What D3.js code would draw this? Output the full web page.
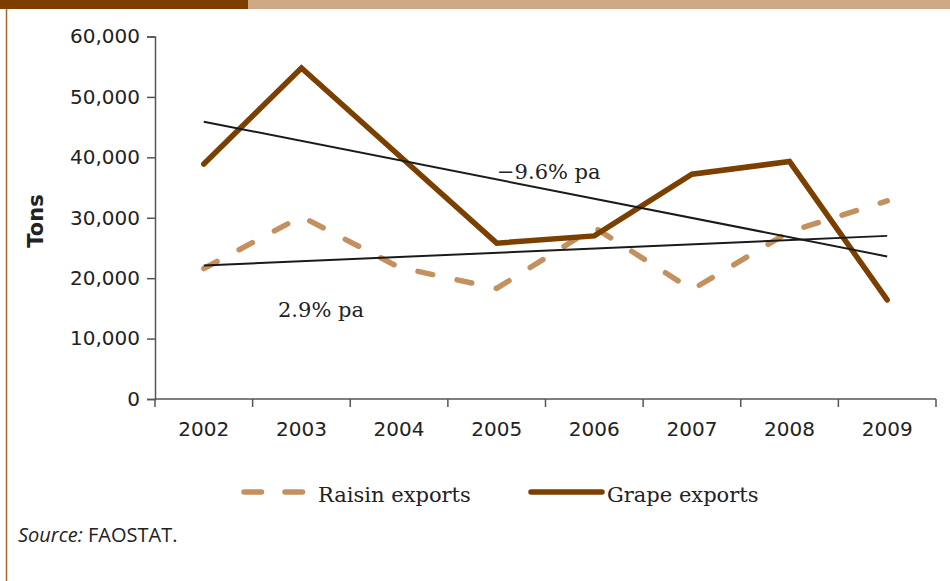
<!DOCTYPE html>
<html>
<head>
<meta charset="utf-8">
<script src="https://cdn.jsdelivr.net/npm/d3@7/dist/d3.min.js"></script>
<style>
  html, body { margin: 0; padding: 0; background: #ffffff; }
  svg { display: block; }
</style>
</head>
<body>
<svg id="chart" width="950" height="581"></svg>
<script>
// Export volumes (tons) by year
const years = ["2002", "2003", "2004", "2005", "2006", "2007", "2008", "2009"];
const raisinExports = [21600, 30200, 21800, 18300, 28400, 18100, 27700, 32800];
const grapeExports  = [38900, 54800, 40300, 25800, 27000, 37200, 39300, 16400];

// Trend lines: values at the first and last year
const trendYears = ["2002", "2009"];
const grapeTrend  = [45900, 23600];
const raisinTrend = [22100, 27000];

const yTicks = [0, 10000, 20000, 30000, 40000, 50000, 60000];
const seriesNames = ["Raisin exports", "Grape exports"];
const trendLabels = ["\u22129.6% pa", "2.9% pa"];

const svg = d3.select("#chart");
const W = 950, H = 581;

const darkBrown = "#7b4000";
const tan = "#c3915f";
const barTan = "#cfa886";
const axisColor = "#555555";
const textColor = "#222222";
const sansFont = "'DejaVu Sans', sans-serif";
const serifFont = "'DejaVu Serif', serif";

// Header band and frame edge
svg.append("rect").attr("x", 0).attr("y", 0).attr("width", 248).attr("height", 9).attr("fill", darkBrown);
svg.append("rect").attr("x", 248).attr("y", 0).attr("width", W - 248).attr("height", 9).attr("fill", barTan);
svg.append("line").attr("x1", 6.5).attr("x2", 6.5).attr("y1", 9).attr("y2", H)
  .attr("stroke", "#a4642a").attr("stroke-width", 1.5);

// Scales
const x = d3.scaleBand().domain(years).range([155, 936]).padding(0);
const xc = d => x(d) + x.bandwidth() / 2;
const y = d3.scaleLinear().domain([0, 60000]).range([399, 36.5]);

// Y axis
const yAxis = d3.axisLeft(y).tickValues(yTicks).tickSize(8).tickPadding(7)
  .tickFormat(d3.format(","));
const gy = svg.append("g").attr("transform", "translate(155,0)").call(yAxis);
gy.select(".domain").attr("stroke", axisColor).attr("stroke-width", 1.5);
gy.selectAll(".tick line").attr("stroke", axisColor).attr("stroke-width", 1.5);
gy.selectAll(".tick text").attr("fill", textColor).attr("font-family", sansFont)
  .attr("font-size", 20);

// X axis with ticks at category boundaries
const gx = svg.append("g").attr("transform", "translate(0,399)");
gx.append("line").attr("x1", 155).attr("x2", 936).attr("y1", 0).attr("y2", 0)
  .attr("stroke", axisColor).attr("stroke-width", 1.5);
const edges = years.map(d => x(d)).concat([x(years[years.length - 1]) + x.bandwidth()]);
gx.selectAll("line.edge").data(edges).join("line").attr("class", "edge")
  .attr("x1", d => d).attr("x2", d => d).attr("y1", 0).attr("y2", 8)
  .attr("stroke", axisColor).attr("stroke-width", 1.5);
gx.selectAll("text").data(years).join("text")
  .attr("x", d => xc(d)).attr("y", 37).attr("text-anchor", "middle")
  .attr("fill", textColor).attr("font-family", sansFont).attr("font-size", 20)
  .text(d => d);

// Y axis title
svg.append("text")
  .attr("transform", "translate(43,221) rotate(-90)")
  .attr("text-anchor", "middle").attr("fill", textColor)
  .attr("font-family", sansFont).attr("font-weight", "bold").attr("font-size", 21)
  .text("Tons");

const line = d3.line().x(d => xc(d[0])).y(d => y(d[1]));

// Raisin series (dashed)
svg.append("path").datum(years.map((d, i) => [d, raisinExports[i]]))
  .attr("d", line).attr("fill", "none").attr("stroke", tan).attr("stroke-width", 5.5)
  .attr("stroke-dasharray", "15,25").attr("stroke-linecap", "round").attr("stroke-linejoin", "round");

// Grape series (solid)
svg.append("path").datum(years.map((d, i) => [d, grapeExports[i]]))
  .attr("d", line).attr("fill", "none").attr("stroke", darkBrown).attr("stroke-width", 5.5)
  .attr("stroke-linecap", "round").attr("stroke-linejoin", "miter");

// Trend lines
[grapeTrend, raisinTrend].forEach(t => {
  svg.append("path").datum(trendYears.map((d, i) => [d, t[i]]))
    .attr("d", line).attr("fill", "none").attr("stroke", "#1a1a1a").attr("stroke-width", 2);
});

// Trend annotations
svg.append("text").attr("x", 497).attr("y", 179).attr("fill", textColor)
  .attr("font-family", serifFont).attr("font-size", 21).text(trendLabels[0]);
svg.append("text").attr("x", 278).attr("y", 317).attr("fill", textColor)
  .attr("font-family", serifFont).attr("font-size", 21).text(trendLabels[1]);

// Legend
const lg = svg.append("g");
lg.append("line").attr("x1", 244).attr("x2", 305).attr("y1", 492).attr("y2", 492)
  .attr("stroke", tan).attr("stroke-width", 5.5).attr("stroke-linecap", "round")
  .attr("stroke-dasharray", "17.5,23.5");
lg.append("text").attr("x", 318).attr("y", 502).attr("fill", textColor)
  .attr("font-family", serifFont).attr("font-size", 21).text(seriesNames[0]);
lg.append("line").attr("x1", 531).attr("x2", 602).attr("y1", 492).attr("y2", 492)
  .attr("stroke", darkBrown).attr("stroke-width", 5.5).attr("stroke-linecap", "round");
lg.append("text").attr("x", 607).attr("y", 502).attr("fill", textColor)
  .attr("font-family", serifFont).attr("font-size", 21).text(seriesNames[1]);

// Source note
const src = svg.append("text").attr("x", 18).attr("y", 542).attr("fill", textColor)
  .attr("font-family", "'Open Sans', sans-serif").attr("font-size", 20);
src.append("tspan").attr("font-style", "italic").text("Source:");
src.append("tspan").text(" FAOSTAT.");
</script>
</body>
</html>
